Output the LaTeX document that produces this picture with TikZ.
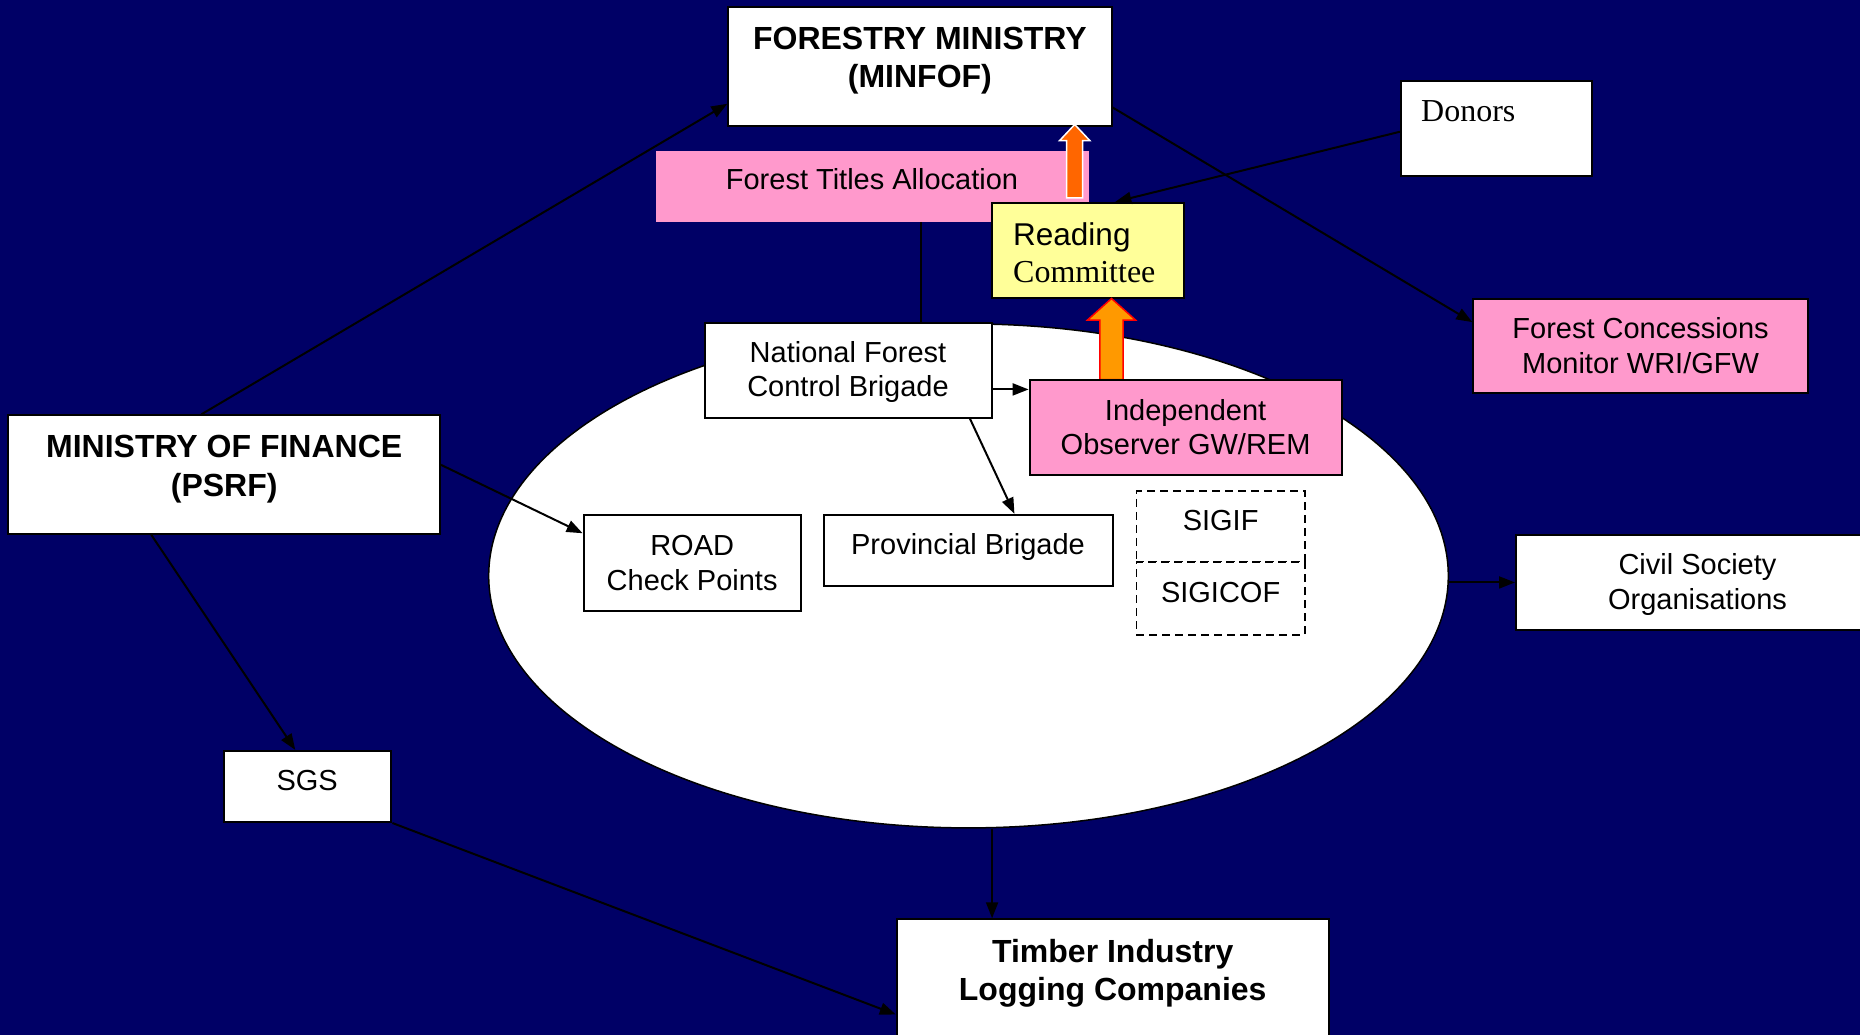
\documentclass[tikz,border=0pt]{standalone}
\usepackage{fontspec}
\setmainfont{Liberation Sans}
\newfontfamily\tmsfont{Liberation Serif}
\usetikzlibrary{shapes.geometric,arrows.meta,calc}
\definecolor{navy}{HTML}{000066}
\definecolor{pinkc}{HTML}{FF99CC}
\definecolor{yellowc}{HTML}{FFFF99}
\definecolor{orangeA}{HTML}{FF6600}
\definecolor{orangeB}{HTML}{FF9900}
\newcommand\regfont{\fontsize{29}{34.5}\selectfont}
\newcommand\boldfont{\bfseries\fontsize{32}{38}\selectfont}
\newcommand\rectat[7]{\node[#2, minimum width={#5-#3}, minimum height={#6-#4}] (#1) at ({(#3+#5)/2},{-(#4+#6)/2}) {#7};}
\tikzset{
  whitebox/.style={draw=black, line width=2pt, fill=white, inner sep=0pt, align=center, font=\regfont, text=black},
  pinkbox/.style={whitebox, fill=pinkc},
  yellowbox/.style={whitebox, fill=yellowc},
  flatpink/.style={fill=pinkc, inner sep=0pt},
  dashbox/.style={draw=black, line width=1.8pt, dash pattern=on 8pt off 5pt, fill=white, inner sep=0pt},
  txt/.style={inner sep=0pt, align=center, text=black, font=\regfont},
  conn/.style={draw=black, line width=2pt, -{Triangle[length=16pt,width=12pt]}},
  plainline/.style={draw=black, line width=2pt},
}
\begin{document}
\begin{tikzpicture}[x=1pt,y=1pt]
\useasboundingbox (0,0) rectangle (1860,-1035);
\fill[navy] (0,0) rectangle (1860,-1035);
\clip (0,0) rectangle (1860,-1035);

% big ellipse
\node[ellipse, draw=black, line width=1.5pt, fill=white, minimum width=959.6, minimum height=504, inner sep=0pt] (ell) at (968.5,-575.9) {};

% boxes
\rectat{fm}{whitebox}{728.3}{7.1}{1111.5}{125.7}{}
\rectat{don}{whitebox}{1400.9}{80.7}{1591.9}{175.6}{}
\rectat{fta}{flatpink}{656}{150.6}{1088.5}{221.8}{}
\rectat{rc}{yellowbox}{991.7}{202.8}{1183.8}{297.7}{}
\rectat{fcm}{pinkbox}{1473.3}{298.9}{1807.8}{392.6}{Forest Concessions\\Monitor WRI/GFW}
\rectat{nf}{whitebox}{704.6}{322.6}{991.7}{417.5}{}

% orange arrow from IO to Reading Committee
\filldraw[fill=orangeB, draw=red, line width=1.5pt] (1099.8,-379.6) -- (1099.8,-320) -- (1087.5,-320) -- (1111.5,-298.5) -- (1135.5,-320) -- (1123.2,-320) -- (1123.2,-379.6) -- cycle;

\rectat{io}{pinkbox}{1029.6}{379.6}{1341.6}{474.5}{Independent\\Observer GW/REM}
\rectat{road}{whitebox}{583.6}{514.8}{800.7}{610.9}{ROAD\\Check Points}
\rectat{prov}{whitebox}{824.4}{514.8}{1112.7}{586}{}
\rectat{sigif}{dashbox}{1136.4}{491}{1304.8}{562.3}{}
\rectat{sigicof}{dashbox}{1136.4}{562.3}{1304.8}{634.6}{}
\rectat{civ}{whitebox}{1516}{535}{1879}{629.9}{}
\rectat{mof}{whitebox}{8.3}{415.2}{440}{533.8}{}
\rectat{sgs}{whitebox}{224.2}{750.9}{391.4}{822}{}
\rectat{tim}{whitebox}{896.8}{919.3}{1328.5}{1060}{}

% orange arrow from Reading Committee to Forestry Ministry
\filldraw[fill=orangeA, draw=white, line width=1.5pt] (1066.7,-198) -- (1066.7,-140.7) -- (1059.5,-140.7) -- (1074.7,-124.5) -- (1089.9,-140.7) -- (1082.7,-140.7) -- (1082.7,-198) -- cycle;

% texts
\node[txt, font=\boldfont] (fmtext) at (919.9,-61) {FORESTRY MINISTRY\\(MINFOF)};
\node[txt, font=\tmsfont\fontsize{32}{38}\selectfont, anchor=west] (dontext) at (1421,-111) {Donors};
\node[txt] (ftatext) at (872,-179) {Forest Titles Allocation};
\node[txt, font=\fontsize{31.5}{36}\selectfont, anchor=west] (rctext1) at (1013,-237) {Reading};
\node[txt, font=\tmsfont\fontsize{32}{38}\selectfont, anchor=west] (rctext2) at (1013,-272.5) {Committee};
\node[txt] (nftext) at (848,-372) {National Forest\\Control Brigade};
\node[txt] (provtext) at (968,-547) {Provincial Brigade};
\node[txt] (sigiftext) at (1220.6,-521) {SIGIF};
\node[txt] (sigicoftext) at (1220.6,-593) {SIGICOF};
\node[txt] (civtext) at (1697.5,-584.5) {Civil Society\\Organisations};
\node[txt, font=\bfseries\fontsize{32}{39}\selectfont] (moftext) at (224.2,-469) {MINISTRY OF FINANCE\\(PSRF)};
\node[txt] (sgstext) at (307.2,-780.5) {SGS};
\node[txt, font=\boldfont] (timtext) at (1112.7,-973.5) {Timber Industry\\Logging Companies};

% connectors
\coordinate (ftab) at ($(fta.south west)!0.613!(fta.south east)$);
\draw[plainline] (ftab) -- (ftab |- nf.north);
\draw[conn] ($(mof.north west)!0.448!(mof.north east)$) -- ($(fm.north west)!0.81!(fm.south west)$);
\draw[conn] ($(mof.north east)!0.42!(mof.south east)$) -- ($(road.north west)!0.198!(road.south west)$);
\draw[conn] ($(mof.south west)!0.332!(mof.south east)$) -- ($(sgs.north west)!0.426!(sgs.north east)$);
\draw[conn] (sgs.south east) -- ($(tim.north west)!0.674!(tim.south west)$);
\coordinate (timtop) at ($(tim.north west)!0.222!(tim.north east)$);
\draw[conn] (ell.south -| timtop) -- (timtop);
\draw[conn] (ell.east |- civ.west) -- (civ.west);
\coordinate (nfr) at ($(nf.north east)!0.7!(nf.south east)$);
\draw[conn] (nfr) -- (nfr -| io.west);
\draw[conn] ($(nf.south west)!0.921!(nf.south east)$) -- ($(prov.north west)!0.658!(prov.north east)$);
\draw[conn] ($(fm.north east)!0.84!(fm.south east)$) -- ($(fcm.north west)!0.253!(fcm.south west)$);
\draw[conn] ($(don.north west)!0.537!(don.south west)$) -- ($(rc.north west)!0.642!(rc.north east)$);
\end{tikzpicture}
\end{document}
